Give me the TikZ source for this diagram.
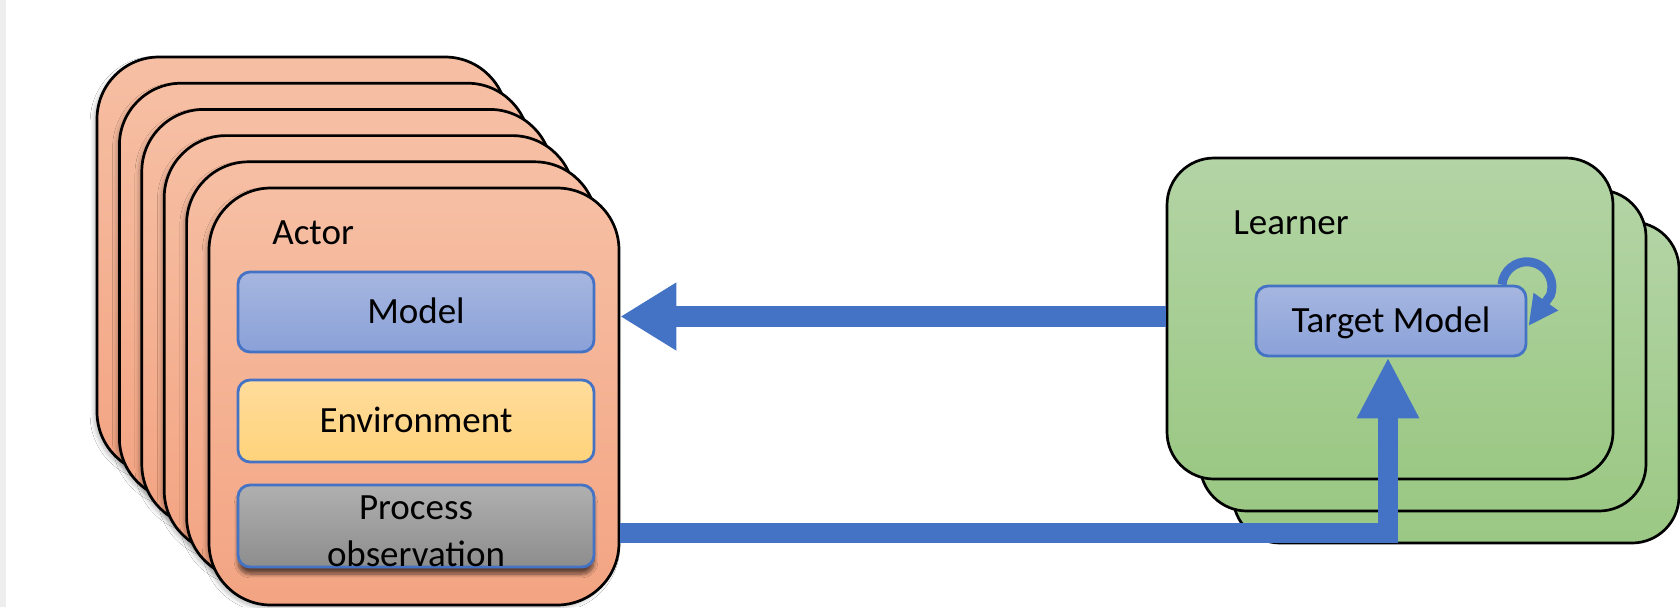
\documentclass[tikz,border=0pt]{standalone}
\usepackage{fontspec}
\setmainfont{Carlito}
\usetikzlibrary{arrows.meta,shadows.blur}
\definecolor{arblue}{HTML}{4472C4}
\definecolor{actortop}{HTML}{F6BFA4}
\definecolor{actorbot}{HTML}{F3A482}
\definecolor{lgtop}{HTML}{B3D4A5}
\definecolor{lgbot}{HTML}{9BC884}
\definecolor{mtop}{HTML}{A6B6E0}
\definecolor{mbot}{HTML}{8AA1D8}
\definecolor{etop}{HTML}{FFDC9C}
\definecolor{ebot}{HTML}{FFD37B}
\definecolor{ptop}{HTML}{B0B0B0}
\definecolor{pbot}{HTML}{8D8D8D}
\definecolor{stripgray}{HTML}{EEEEEE}
\begin{document}
\begin{tikzpicture}[x=0.5pt,y=-0.5pt,
  font=\fontsize{18.5pt}{23.5pt}\selectfont,
  actorcard/.style={draw=black, line width=1.35pt, rounded corners=31pt,
    top color=actortop, bottom color=actorbot,
    minimum width=205pt, minimum height=208.5pt, inner sep=0pt,
    blur shadow={shadow xshift=-1.5pt, shadow yshift=-1.5pt, shadow opacity=25, shadow blur steps=6}},
  learnercard/.style={draw=black, line width=1.35pt, rounded corners=23.5pt,
    top color=lgtop, bottom color=lgbot,
    minimum width=223pt, minimum height=160.5pt, inner sep=0pt},
  innerbox/.style={draw=arblue, line width=1.4pt, rounded corners=6pt,
    minimum width=178pt, inner sep=0pt, text height=11.7pt, text depth=0pt},
  modelbox/.style={innerbox, minimum height=40pt, top color=mtop, bottom color=mbot},
  envbox/.style={innerbox, minimum height=41pt, top color=etop, bottom color=ebot},
  procbox/.style={innerbox, minimum height=41pt, top color=ptop, bottom color=pbot,
    blur shadow={shadow xshift=0pt, shadow yshift=-3.5pt, shadow opacity=60, shadow blur steps=8}},
  targetbox/.style={innerbox, minimum width=135pt, minimum height=35pt, top color=mtop, bottom color=mbot},
  lbl/.style={inner sep=0pt},
  bigarrow/.style={draw=arblue, line width=10.5pt, -{Triangle[length=28pt,width=32pt]}},
  uparrow/.style={draw=arblue, line width=10pt, line join=miter, -{Triangle[length=30.5pt,width=29pt]}},
  loopar/.style={draw=arblue, line width=4.5pt, -{Triangle[length=15pt,width=14pt]}}
]
\useasboundingbox (0,0) rectangle (1680,607);
\fill[white] (0,0) rectangle (1680,607);
\fill[stripgray] (0,0) rectangle (6,607);

% actor cards, back to front
\node[actorcard] (actor0) at (302,265.5) {};
\node[actorcard] (actor1) at (324.4,291.7) {};
\node[actorcard] (actor2) at (346.8,317.9) {};
\node[actorcard] (actor3) at (369.2,344.1) {};
\node[actorcard] (actor4) at (391.6,370.3) {};
\node[actorcard] (actor5) at (414,396.5) {};

\node[lbl, anchor=base west] (actorlbl) at (272,244) {Actor};
\node[modelbox] (model) at (416,312) {Model};
\node[envbox] (env) at (416,421) {Environment};
\node[procbox] (proc) at (416,526) {};
\node[lbl, anchor=base] (proct1) at (416,519) {Process};
\node[lbl, anchor=base] (proct2) at (416,566) {observation};

% learner cards, back to front
\node[learnercard] (learner3) at (1456,382.5) {};
\node[learnercard] (learner2) at (1423,350.5) {};
\node[learnercard] (learner1) at (1390,318.5) {};
\node[lbl, anchor=base west] (learnerlbl) at (1233,234) {Learner};
\node[targetbox] (target) at (1391,321) {Target Model};

% connectors
\coordinate (arrY) at (0,316.5);
\coordinate (bend) at (1388,533);
\draw[bigarrow] (learner1.west |- arrY) -- (actor5.east |- arrY);
\draw[uparrow] (actor5.east |- bend) -- (bend) -- (bend |- target.south);
\draw[loopar] ([xshift=55.5pt]target.north) arc[start angle=185, end angle=380, radius=25]
  -- ([xshift=0.5pt,yshift=-2.5pt]target.east);
\end{tikzpicture}
\end{document}
